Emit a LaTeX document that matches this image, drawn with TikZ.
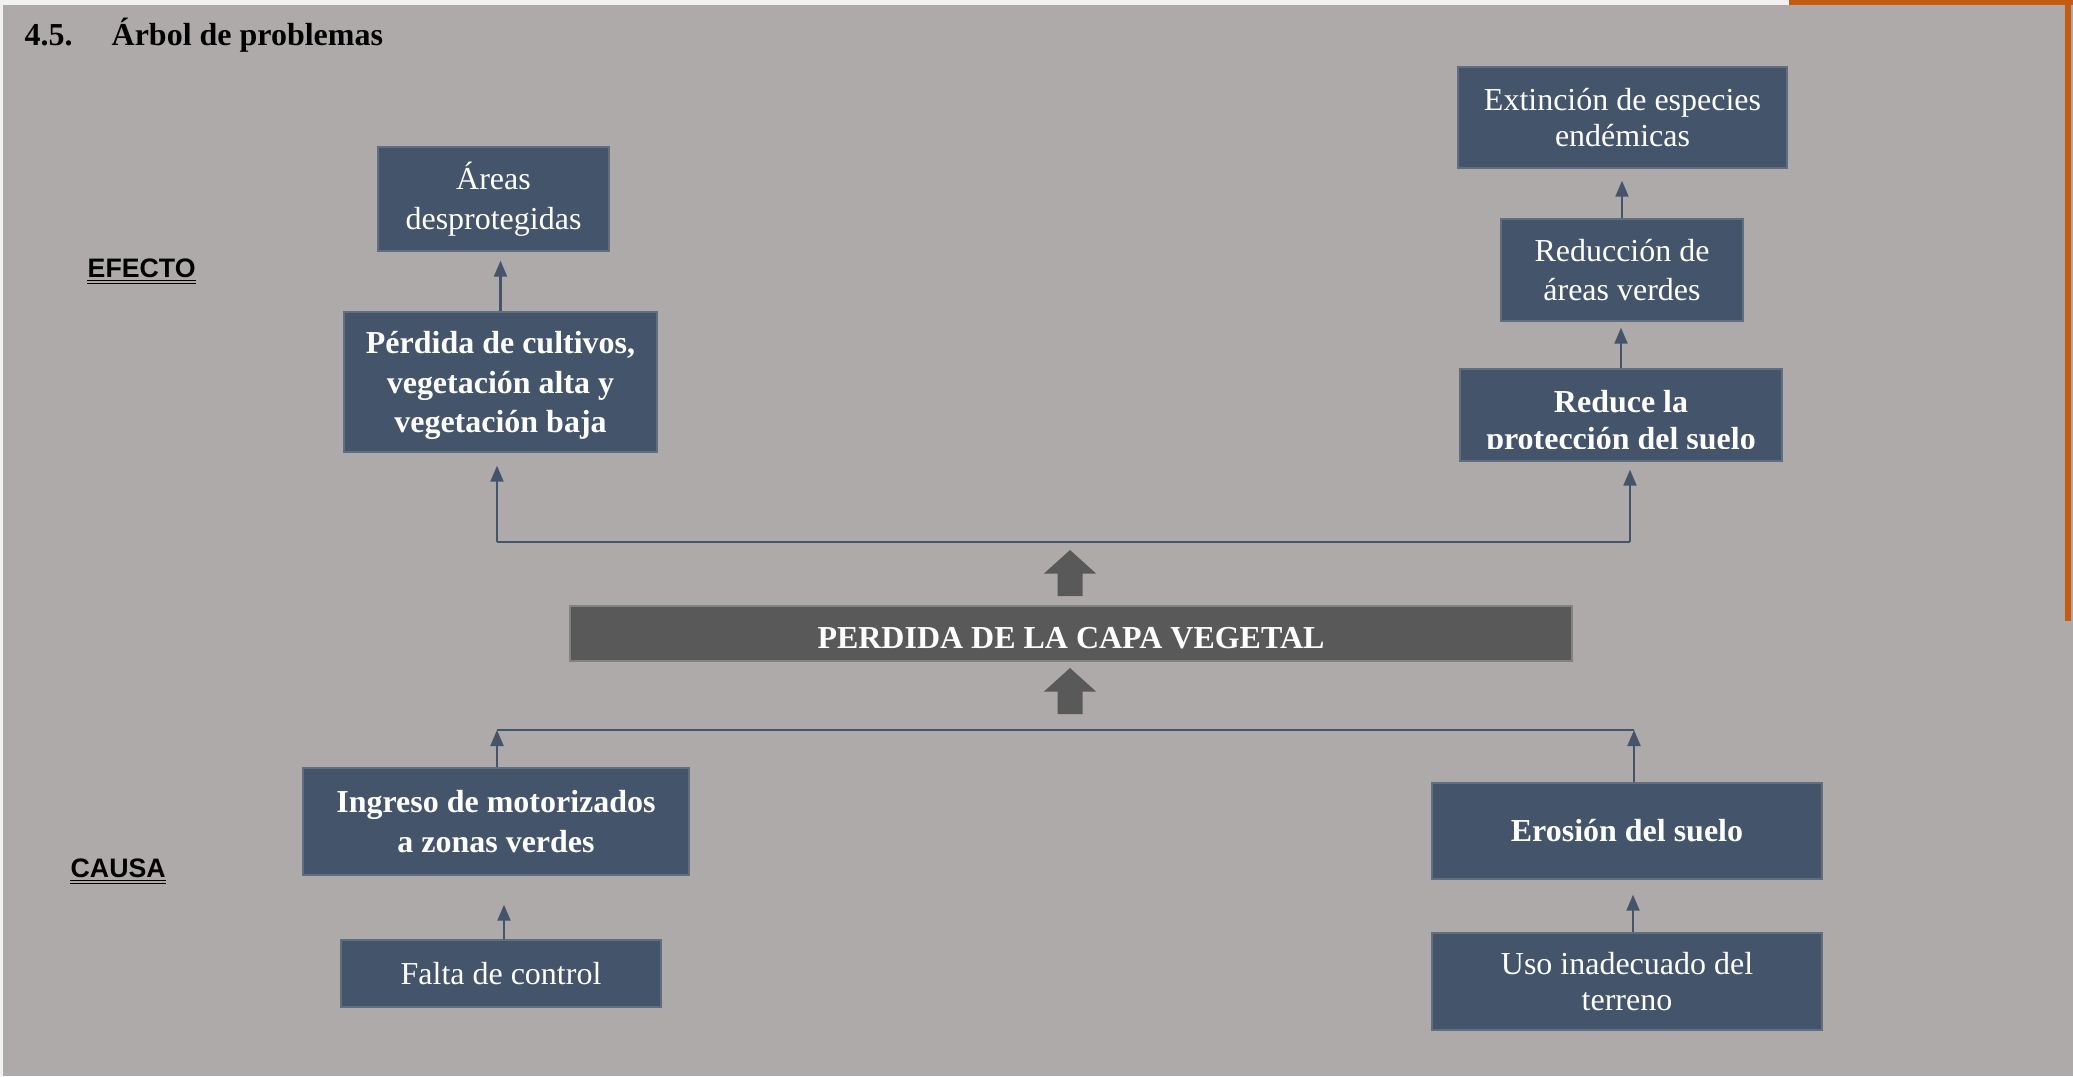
\documentclass[tikz,border=0pt]{standalone}
\usepackage{fontspec}
\setmainfont{Liberation Serif}
\newfontfamily\arialfont{Liberation Sans}
\usepackage{xcolor}
\usetikzlibrary{arrows.meta}

\definecolor{fondo}{RGB}{174,170,169}
\definecolor{azul}{RGB}{68,84,106}
\definecolor{gris}{RGB}{89,89,89}
\definecolor{naranja}{RGB}{197,90,17}
\definecolor{borde}{RGB}{241,241,241}

\tikzset{
  caja/.style={fill=azul, draw=azul!85!white, line width=0.4pt, text=white, align=center, inner sep=0pt, font=\fontsize{9.1}{11.3}\selectfont},
  negrita/.style={font=\fontsize{9.1}{11.3}\selectfont\bfseries},
  apretada/.style={font=\fontsize{9.1}{10.2}\selectfont},
  central/.style={fill=gris, draw={rgb,255:red,130;green,130;blue,130}, line width=0.4pt, text=white, inner sep=0pt, minimum width=10.02cm, minimum height=0.55cm, text height=0.29cm, text depth=0pt, font=\fontsize{9.1}{11}\selectfont\bfseries},
  flecha/.style={draw=azul, line width=0.6pt, -{Triangle[width=0.13cm,length=0.16cm]}},
  linea/.style={draw=azul, line width=0.6pt},
  titulo/.style={anchor=base west, inner sep=0pt, font=\fontsize{9.1}{11}\selectfont\bfseries},
  etiqueta/.style={anchor=base west, inner sep=0pt, font=\arialfont\fontsize{7.6}{9}\selectfont\bfseries},
  subrayado/.style={draw=black, line width=0.35pt},
}

\begin{document}
\begin{tikzpicture}
  \useasboundingbox (0,0) rectangle (20.73,-10.76);
  % fondo de la pagina
  \fill[borde] (0,0) rectangle (20.73,-10.76);
  \fill[fondo] (0.03,-0.05) rectangle (20.73,-10.76);
  \fill[naranja] (17.89,0) rectangle (20.73,-0.05);
  \fill[naranja] (20.65,0) rectangle (20.71,-6.21);

  % titulo y etiquetas
  \node[titulo] (Numero) at (0.24,-0.45) {4.5.};
  \node[titulo] (Titulo) at (1.11,-0.45) {Árbol de problemas};
  \node[etiqueta] (Efecto) at (0.87,-2.77) {EFECTO};
  \node[etiqueta] (Causa) at (0.70,-8.77) {CAUSA};
  \draw[subrayado] ([yshift=-1pt]Efecto.base west) -- ([yshift=-1pt]Efecto.base east);
  \draw[subrayado] ([yshift=-1.9pt]Efecto.base west) -- ([yshift=-1.9pt]Efecto.base east);
  \draw[subrayado] ([yshift=-1pt]Causa.base west) -- ([yshift=-1pt]Causa.base east);
  \draw[subrayado] ([yshift=-1.9pt]Causa.base west) -- ([yshift=-1.9pt]Causa.base east);

  % efectos
  \node[caja, minimum width=2.31cm, minimum height=1.04cm] (Areas) at (4.935,-1.99) {Áreas\\desprotegidas};
  \node[caja, negrita, text depth=0pt, minimum width=3.13cm, minimum height=1.40cm] (Perdida) at (5.005,-3.82) {Pérdida de cultivos,\\vegetación alta y\\vegetación baja};
  \node[caja, apretada, minimum width=3.29cm, minimum height=1.01cm] (Extincion) at (16.225,-1.175) {Extinción de especies\\endémicas};
  \node[caja, minimum width=2.42cm, minimum height=1.02cm] (Reduccion) at (16.22,-2.70) {Reducción de\\áreas verdes};
  \node[caja, minimum width=3.22cm, minimum height=0.92cm] (Reduce) at (16.21,-4.15) {};
  \begin{scope}
    \clip (Reduce.north west) rectangle ([yshift=-0.80cm]Reduce.north east);
    \node[text=white, align=center, inner sep=0pt, font=\fontsize{9.1}{10.5}\selectfont\bfseries] (ReduceTexto) at (16.21,-4.235) {Reduce la\\protección del suelo};
  \end{scope}

  % problema central
  \node[central] (Capa) at (10.71,-6.335) {PERDIDA DE LA CAPA VEGETAL};
  \foreach \y in {5.50,6.68} {
    \fill[gris] (10.70,-\y) -- ++(0.26,-0.235) -- ++(-0.135,0) -- ++(0,-0.225) -- ++(-0.25,0) -- ++(0,0.225) -- ++(-0.135,0) -- cycle;
  }

  % causas
  \node[caja, negrita, minimum width=3.86cm, minimum height=1.07cm] (Ingreso) at (4.96,-8.215) {Ingreso de motorizados\\a zonas verdes};
  \node[caja, minimum width=3.20cm, minimum height=0.67cm] (Falta) at (5.01,-9.735) {Falta de control};
  \node[caja, negrita, minimum width=3.90cm, minimum height=0.96cm] (Erosion) at (16.27,-8.31) {Erosión del suelo};
  \node[caja, apretada, minimum width=3.90cm, minimum height=0.97cm] (Uso) at (16.27,-9.815) {Uso inadecuado del\\terreno};

  % conectores de efectos
  \coordinate (SupIzq) at (4.97,-5.42);
  \coordinate (SupDer) at (16.30,-5.42);
  \draw[linea] (SupIzq) -- (SupDer);
  \draw[flecha, shorten >=0.13cm] (SupIzq) -- (SupIzq |- Perdida.south);
  \draw[flecha, shorten >=0.08cm] (SupDer) -- (SupDer |- Reduce.south);
  \draw[flecha, shorten >=0.09cm] (Perdida.north) -- (Perdida.north |- Areas.south);
  \draw[flecha, shorten >=0.06cm] (Reduce.north) -- (Reduce.north |- Reduccion.south);
  \draw[flecha, shorten >=0.12cm] (Reduccion.north) -- (Reduccion.north |- Extincion.south);

  % conectores de causas
  \coordinate (InfIzq) at (4.97,-7.30);
  \coordinate (InfDer) at (16.34,-7.30);
  \draw[linea] (InfIzq) -- (InfDer);
  \draw[flecha] (InfIzq |- Ingreso.north) -- (InfIzq);
  \draw[flecha] (InfDer |- Erosion.north) -- (InfDer);
  \draw[flecha, shorten >=0.29cm] ([xshift=0.03cm]Falta.north) -- ([xshift=0.03cm]Falta.north |- Ingreso.south);
  \draw[flecha, shorten >=0.15cm] ([xshift=0.06cm]Uso.north) -- ([xshift=0.06cm]Uso.north |- Erosion.south);
\end{tikzpicture}
\end{document}
